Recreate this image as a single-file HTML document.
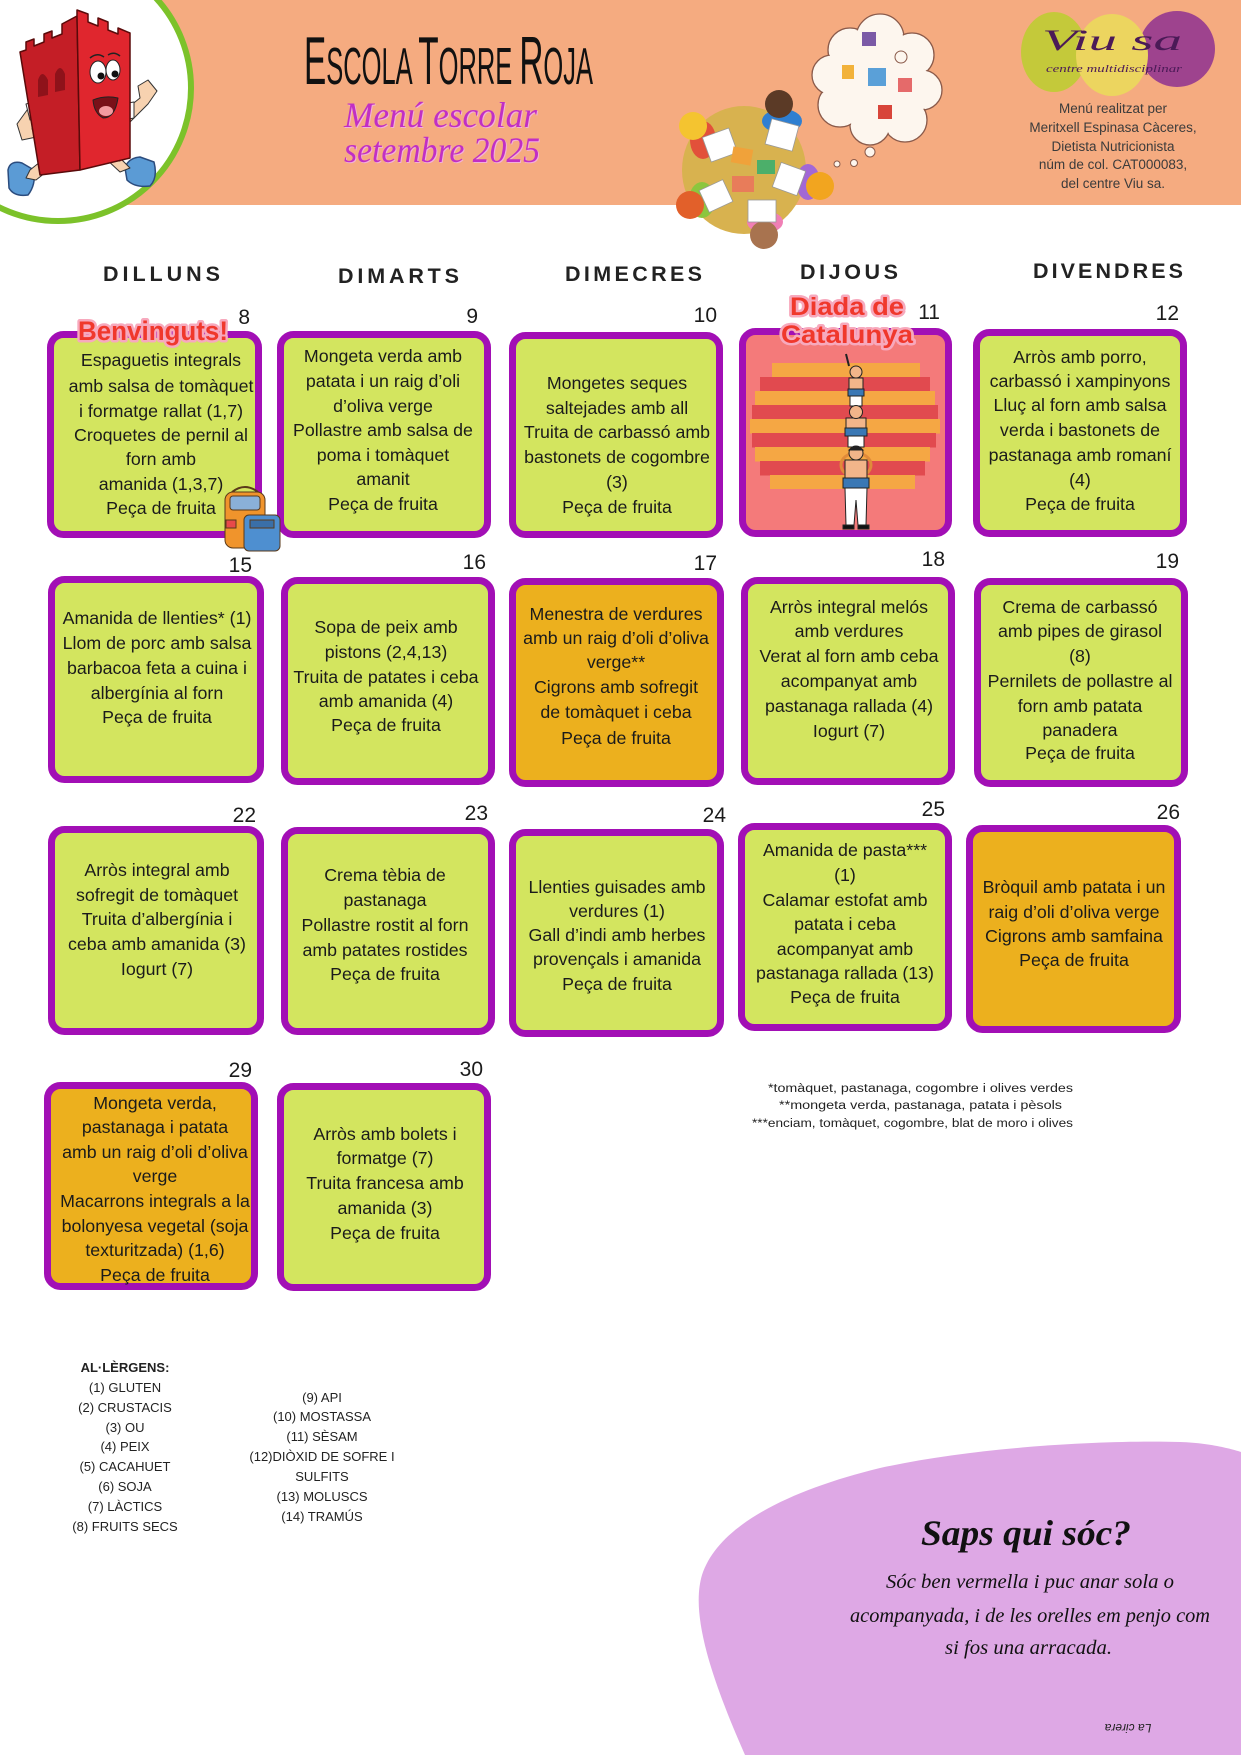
<!DOCTYPE html>
<html><head><meta charset="utf-8">
<style>
html,body{margin:0;padding:0;background:#fff;}
body{width:1241px;height:1755px;overflow:hidden;}
svg{display:block;}
.t{font-family:"Liberation Sans",sans-serif;font-size:17.8px;fill:#1b1b1b;text-anchor:middle;}
.n{font-family:"Liberation Sans",sans-serif;font-size:21px;fill:#1b1b1b;text-anchor:end;}
.h{font-family:"Liberation Sans",sans-serif;font-size:21.5px;font-weight:bold;fill:#222;}
.a{font-family:"Liberation Sans",sans-serif;font-size:13px;fill:#222;text-anchor:middle;}
.r{font-family:"Liberation Sans",sans-serif;font-size:13.5px;fill:#3b3b3b;text-anchor:middle;}
.f{font-family:"Liberation Sans",sans-serif;font-size:11.5px;fill:#222;text-anchor:middle;}
</style></head>
<body>
<svg width="1241" height="1755" viewBox="0 0 1241 1755" xmlns="http://www.w3.org/2000/svg">
<!-- header -->
<rect x="0" y="0" width="1241" height="205" fill="#f5ab80"/>
<circle cx="58" cy="88" r="133" fill="#fff" stroke="#7cc22a" stroke-width="6"/>

<!-- tower mascot -->
<g stroke-linejoin="round">
 <path d="M8,170 Q10,160 22,163 L34,170 Q36,185 28,195 Q14,197 9,188 Z" fill="#5b9bd5" stroke="#2b4c7e" stroke-width="1.5"/>
 <path d="M125,168 Q128,158 140,157 L154,162 Q158,178 150,186 Q135,188 127,180 Z" fill="#5b9bd5" stroke="#2b4c7e" stroke-width="1.5"/>
 <path d="M45,158 L30,170 L26,178 L36,180 L55,165 Z" fill="#f7d2b0" stroke="#333" stroke-width="1"/>
 <path d="M105,158 L120,172 L130,168 L115,153 Z" fill="#f7d2b0" stroke="#333" stroke-width="1"/>
 <rect x="40" y="146" width="22" height="18" fill="#fff" stroke="#333"/>
 <rect x="100" y="143" width="20" height="18" fill="#fff" stroke="#333"/>
 <path d="M30,106 L17,124 L22,140 L46,135 L41,127 L32,129 L38,114 Z" fill="#f7d2b0" stroke="#333"/>
 <path d="M26,104 L40,100 L42,118 L30,120 Z" fill="#fff" stroke="#333"/>
 <path d="M125,110 L140,98 L138,86 L148,80 L157,91 L148,104 L130,122 Z" fill="#f7d2b0" stroke="#333"/>
 <path d="M122,104 L134,102 L134,118 L124,120 Z" fill="#fff" stroke="#333"/>
 <path d="M20,52 L26,50 L26,42 L34,39 L34,46 L44,42 L44,34 L52,31 L52,38 L62,34 L62,24 L77,16 L80,170 L40,175 Z" fill="#c41e26" stroke="#5a0a0a" stroke-width="1.5"/>
 <path d="M77,16 L77,10 L88,14 L88,22 L98,26 L98,18 L108,22 L108,30 L118,34 L118,28 L130,33 L130,158 L80,170 Z" fill="#e0262e" stroke="#5a0a0a" stroke-width="1.5"/>
 <path d="M38,97 L38,80 Q42,68 48,80 L48,95 Z" fill="#8e121a"/>
 <path d="M55,92 L55,74 Q60,62 65,74 L65,90 Z" fill="#8e121a"/>
 <ellipse cx="98" cy="72" rx="8" ry="11" fill="#fff" stroke="#222"/>
 <ellipse cx="113" cy="70" rx="7" ry="10" fill="#fff" stroke="#222"/>
 <circle cx="101" cy="76" r="3.5" fill="#111"/>
 <circle cx="115" cy="74" r="3.5" fill="#111"/>
 <path d="M90,58 Q97,52 104,57 M108,55 Q114,51 120,56" stroke="#222" stroke-width="1.5" fill="none"/>
 <path d="M93,100 Q105,95 118,98 Q115,118 103,118 Q94,113 93,100 Z" fill="#7a1018" stroke="#222"/>
 <ellipse cx="106" cy="111" rx="7" ry="5" fill="#f49aa0"/>
</g>

<!-- title -->
<text x="304" y="84" textLength="289" lengthAdjust="spacingAndGlyphs" font-family="Liberation Sans, sans-serif" fill="#111"><tspan font-size="68">E</tspan><tspan font-size="52">SCOLA </tspan><tspan font-size="68">T</tspan><tspan font-size="52">ORRE </tspan><tspan font-size="68">R</tspan><tspan font-size="52">OJA</tspan></text>
<text x="345" y="128" textLength="193" lengthAdjust="spacingAndGlyphs" font-family="Liberation Serif, serif" font-style="italic" font-size="36" fill="#f3b0d8">Menú escolar</text>
<text x="344" y="127" textLength="193" lengthAdjust="spacingAndGlyphs" font-family="Liberation Serif, serif" font-style="italic" font-size="36" fill="#c12fc4">Menú escolar</text>
<text x="345" y="163" textLength="196" lengthAdjust="spacingAndGlyphs" font-family="Liberation Serif, serif" font-style="italic" font-size="36" fill="#f3b0d8">setembre 2025</text>
<text x="344" y="162" textLength="196" lengthAdjust="spacingAndGlyphs" font-family="Liberation Serif, serif" font-style="italic" font-size="36" fill="#c12fc4">setembre 2025</text>

<!-- table illustration -->
<g>
 <ellipse cx="744" cy="170" rx="62" ry="64" fill="#d8b24f"/>
 <ellipse cx="782" cy="121" rx="20" ry="12" fill="#2f7fd1"/>
 <circle cx="779" cy="104" r="14" fill="#5b3a26"/>
 <ellipse cx="703" cy="140" rx="13" ry="19" fill="#e2503a"/>
 <circle cx="693" cy="126" r="14" fill="#f4c430"/>
 <ellipse cx="702" cy="200" rx="13" ry="18" fill="#8cc63e"/>
 <circle cx="690" cy="205" r="14" fill="#e2602a"/>
 <ellipse cx="808" cy="182" rx="12" ry="18" fill="#a268d6"/>
 <circle cx="820" cy="186" r="14" fill="#f2a51f"/>
 <ellipse cx="765" cy="222" rx="18" ry="11" fill="#f07fb5"/>
 <circle cx="764" cy="235" r="14" fill="#a8734f"/>
 <rect x="706" y="132" width="28" height="26" fill="#fff" stroke="#999" stroke-width="0.8" transform="rotate(-20 720 145)"/>
 <rect x="768" y="122" width="28" height="26" fill="#fff" stroke="#999" stroke-width="0.8" transform="rotate(15 782 135)"/>
 <rect x="703" y="184" width="26" height="24" fill="#fff" stroke="#999" stroke-width="0.8" transform="rotate(-25 716 196)"/>
 <rect x="776" y="166" width="26" height="26" fill="#fff" stroke="#999" stroke-width="0.8" transform="rotate(20 789 179)"/>
 <rect x="748" y="200" width="28" height="22" fill="#fff" stroke="#999" stroke-width="0.8"/>
 <rect x="732" y="148" width="20" height="16" fill="#f0a23a" transform="rotate(10 742 156)"/>
 <rect x="757" y="160" width="18" height="14" fill="#4caf6a"/>
 <rect x="732" y="176" width="22" height="16" fill="#e87c5a"/>
</g>

<!-- thought cloud -->
<g>
 <g fill="#fdf6ee" stroke="#8a5a4a" stroke-width="1.3">
  <circle cx="850" cy="50" r="22"/><circle cx="880" cy="38" r="24"/><circle cx="912" cy="55" r="22"/>
  <circle cx="922" cy="90" r="20"/><circle cx="905" cy="120" r="22"/><circle cx="870" cy="125" r="20"/>
  <circle cx="840" cy="105" r="22"/><circle cx="832" cy="75" r="20"/>
 </g>
 <g fill="#fdf6ee">
  <circle cx="850" cy="50" r="21"/><circle cx="880" cy="38" r="23"/><circle cx="912" cy="55" r="21"/>
  <circle cx="922" cy="90" r="19"/><circle cx="905" cy="120" r="21"/><circle cx="870" cy="125" r="19"/>
  <circle cx="840" cy="105" r="21"/><circle cx="832" cy="75" r="19"/><circle cx="878" cy="82" r="42"/>
 </g>
 <rect x="862" y="32" width="14" height="14" fill="#7b5aa6"/>
 <rect x="842" y="65" width="12" height="14" fill="#f2b23a"/>
 <rect x="868" y="68" width="18" height="18" fill="#5aa0d8"/>
 <rect x="898" y="78" width="14" height="14" fill="#e56a6a"/>
 <rect x="878" y="105" width="14" height="14" fill="#d8453a"/>
 <circle cx="901" cy="57" r="6" fill="none" stroke="#8a5a4a"/>
 <circle cx="870" cy="152" r="5" fill="#fdf6ee" stroke="#8a5a4a" stroke-width="1"/>
 <circle cx="854" cy="163" r="3.5" fill="#fdf6ee" stroke="#8a5a4a" stroke-width="1"/>
 <circle cx="837" cy="164" r="3" fill="#fdf6ee" stroke="#8a5a4a" stroke-width="1"/>
</g>

<!-- Viu sa logo -->
<ellipse cx="1054" cy="52" rx="33" ry="40" fill="#c4c93a"/>
<ellipse cx="1177" cy="49" rx="38" ry="38" fill="#9e438e"/>
<ellipse cx="1112" cy="55" rx="36" ry="41" fill="#ecd55f"/>
<text x="1042" y="50" textLength="140" lengthAdjust="spacingAndGlyphs" font-family="Liberation Serif, serif" font-style="italic" font-size="30" fill="#4b1a57">Viu  sa</text>
<text x="1046" y="72" textLength="136" lengthAdjust="spacingAndGlyphs" font-family="Liberation Serif, serif" font-style="italic" font-size="11" fill="#4b1a57">centre multidisciplinar</text>
<text class="r" x="1113" y="113">Menú realitzat per</text>
<text class="r" x="1113" y="132">Meritxell Espinasa Càceres,</text>
<text class="r" x="1113" y="151">Dietista Nutricionista</text>
<text class="r" x="1113" y="169">núm de col. CAT000083,</text>
<text class="r" x="1113" y="188">del centre Viu sa.</text>

<!-- weekday headers -->
<text class="h" x="103" y="281" textLength="117" lengthAdjust="spacing">DILLUNS</text>
<text class="h" x="338" y="283" textLength="121" lengthAdjust="spacing">DIMARTS</text>
<text class="h" x="565" y="281" textLength="137" lengthAdjust="spacing">DIMECRES</text>
<text class="h" x="800" y="279" textLength="98" lengthAdjust="spacing">DIJOUS</text>
<text class="h" x="1033" y="278" textLength="150" lengthAdjust="spacing">DIVENDRES</text>

<!-- cards -->
<g stroke="#a20fb5" stroke-width="7">
 <rect x="50.5" y="334.5" width="208" height="200" rx="13" fill="#d3e55f"/>
 <rect x="280.5" y="334.5" width="207" height="200" rx="13" fill="#d3e55f"/>
 <rect x="512.5" y="335.5" width="207" height="199" rx="13" fill="#d3e55f"/>
 <rect x="742.5" y="331.5" width="206" height="202" rx="13" fill="#f47a7a"/>
 <rect x="976.5" y="332.5" width="207" height="201" rx="13" fill="#d3e55f"/>
 <rect x="51.5" y="579.5" width="209" height="200" rx="13" fill="#d3e55f"/>
 <rect x="284.5" y="580.5" width="207" height="201" rx="13" fill="#d3e55f"/>
 <rect x="512.5" y="581.5" width="208" height="202" rx="13" fill="#ecb01e"/>
 <rect x="744.5" y="580.5" width="207" height="201" rx="13" fill="#d3e55f"/>
 <rect x="977.5" y="581.5" width="207" height="202" rx="13" fill="#d3e55f"/>
 <rect x="51.5" y="829.5" width="209" height="202" rx="13" fill="#d3e55f"/>
 <rect x="284.5" y="830.5" width="207" height="201" rx="13" fill="#d3e55f"/>
 <rect x="512.5" y="832.5" width="208" height="201" rx="13" fill="#d3e55f"/>
 <rect x="741.5" y="826.5" width="207" height="201" rx="13" fill="#d3e55f"/>
 <rect x="969.5" y="828.5" width="208" height="201" rx="13" fill="#ecb01e"/>
 <rect x="47.5" y="1085.5" width="207" height="201" rx="13" fill="#ecb01e"/>
 <rect x="280.5" y="1086.5" width="207" height="201" rx="13" fill="#d3e55f"/>
</g>

<!-- day numbers -->
<text class="n" x="250" y="324">8</text>
<text class="n" x="478" y="323">9</text>
<text class="n" x="717" y="322">10</text>
<text class="n" x="940" y="319">11</text>
<text class="n" x="1179" y="320">12</text>
<text class="n" x="252" y="572">15</text>
<text class="n" x="486" y="569">16</text>
<text class="n" x="717" y="570">17</text>
<text class="n" x="945" y="566">18</text>
<text class="n" x="1179" y="568">19</text>
<text class="n" x="256" y="822">22</text>
<text class="n" x="488" y="820">23</text>
<text class="n" x="726" y="822">24</text>
<text class="n" x="945" y="816">25</text>
<text class="n" x="1180" y="819">26</text>
<text class="n" x="252" y="1077">29</text>
<text class="n" x="483" y="1076">30</text>

<!-- card 8 -->
<text class="t" x="161" y="366">Espaguetis integrals</text>
<text class="t" x="161" y="392">amb salsa de tomàquet</text>
<text class="t" x="161" y="417">i formatge rallat (1,7)</text>
<text class="t" x="161" y="441">Croquetes de pernil al</text>
<text class="t" x="161" y="465">forn amb</text>
<text class="t" x="161" y="490">amanida (1,3,7)</text>
<text class="t" x="161" y="514">Peça de fruita</text>
<!-- card 9 -->
<text class="t" x="383" y="362">Mongeta verda amb</text>
<text class="t" x="383" y="387">patata i un raig d’oli</text>
<text class="t" x="383" y="412">d’oliva verge</text>
<text class="t" x="383" y="436">Pollastre amb salsa de</text>
<text class="t" x="383" y="461">poma i tomàquet</text>
<text class="t" x="383" y="485">amanit</text>
<text class="t" x="383" y="510">Peça de fruita</text>
<!-- card 10 -->
<text class="t" x="617" y="389">Mongetes seques</text>
<text class="t" x="617" y="414">saltejades amb all</text>
<text class="t" x="617" y="438">Truita de carbassó amb</text>
<text class="t" x="617" y="463">bastonets de cogombre</text>
<text class="t" x="617" y="488">(3)</text>
<text class="t" x="617" y="513">Peça de fruita</text>
<!-- card 12 -->
<text class="t" x="1080" y="363">Arròs amb porro,</text>
<text class="t" x="1080" y="387">carbassó  i xampinyons</text>
<text class="t" x="1080" y="411">Lluç al forn amb salsa</text>
<text class="t" x="1080" y="436">verda i bastonets de</text>
<text class="t" x="1080" y="461">pastanaga amb romaní</text>
<text class="t" x="1080" y="486">(4)</text>
<text class="t" x="1080" y="510">Peça de fruita</text>
<!-- card 15 -->
<text class="t" x="157" y="624">Amanida de llenties* (1)</text>
<text class="t" x="157" y="649">Llom de porc amb salsa</text>
<text class="t" x="157" y="674">barbacoa feta a cuina i</text>
<text class="t" x="157" y="699">albergínia al forn</text>
<text class="t" x="157" y="723">Peça de fruita</text>
<!-- card 16 -->
<text class="t" x="386" y="633">Sopa de peix amb</text>
<text class="t" x="386" y="658">pistons (2,4,13)</text>
<text class="t" x="386" y="683">Truita de patates i ceba</text>
<text class="t" x="386" y="707">amb amanida (4)</text>
<text class="t" x="386" y="731">Peça de fruita</text>
<!-- card 17 -->
<text class="t" x="616" y="620">Menestra de verdures</text>
<text class="t" x="616" y="644">amb un raig d’oli d’oliva</text>
<text class="t" x="616" y="668">verge**</text>
<text class="t" x="616" y="693">Cigrons amb sofregit</text>
<text class="t" x="616" y="718">de tomàquet i ceba</text>
<text class="t" x="616" y="744">Peça de fruita</text>
<!-- card 18 -->
<text class="t" x="849" y="613">Arròs integral melós</text>
<text class="t" x="849" y="637">amb verdures</text>
<text class="t" x="849" y="662">Verat al forn amb  ceba</text>
<text class="t" x="849" y="687">acompanyat amb</text>
<text class="t" x="849" y="712">pastanaga rallada (4)</text>
<text class="t" x="849" y="737">Iogurt (7)</text>
<!-- card 19 -->
<text class="t" x="1080" y="613">Crema de carbassó</text>
<text class="t" x="1080" y="637">amb pipes de girasol</text>
<text class="t" x="1080" y="662">(8)</text>
<text class="t" x="1080" y="687">Pernilets de pollastre al</text>
<text class="t" x="1080" y="712">forn amb patata</text>
<text class="t" x="1080" y="736">panadera</text>
<text class="t" x="1080" y="759">Peça de fruita</text>
<!-- card 22 -->
<text class="t" x="157" y="876">Arròs integral amb</text>
<text class="t" x="157" y="901">sofregit de tomàquet</text>
<text class="t" x="157" y="925">Truita d’albergínia i</text>
<text class="t" x="157" y="950">ceba amb amanida (3)</text>
<text class="t" x="157" y="975">Iogurt (7)</text>
<!-- card 23 -->
<text class="t" x="385" y="881">Crema tèbia de</text>
<text class="t" x="385" y="906">pastanaga</text>
<text class="t" x="385" y="931">Pollastre rostit al forn</text>
<text class="t" x="385" y="956">amb patates rostides</text>
<text class="t" x="385" y="980">Peça de fruita</text>
<!-- card 24 -->
<text class="t" x="617" y="893">Llenties guisades amb</text>
<text class="t" x="617" y="917">verdures (1)</text>
<text class="t" x="617" y="941">Gall d’indi amb herbes</text>
<text class="t" x="617" y="965">provençals i amanida</text>
<text class="t" x="617" y="990">Peça de fruita</text>
<!-- card 25 -->
<text class="t" x="845" y="856">Amanida de pasta***</text>
<text class="t" x="845" y="881">(1)</text>
<text class="t" x="845" y="906">Calamar estofat amb</text>
<text class="t" x="845" y="930">patata i ceba</text>
<text class="t" x="845" y="955">acompanyat amb</text>
<text class="t" x="845" y="979">pastanaga rallada (13)</text>
<text class="t" x="845" y="1003">Peça de fruita</text>
<!-- card 26 -->
<text class="t" x="1074" y="893">Bròquil amb patata i un</text>
<text class="t" x="1074" y="918">raig d’oli d’oliva verge</text>
<text class="t" x="1074" y="942">Cigrons amb samfaina</text>
<text class="t" x="1074" y="966">Peça de fruita</text>
<!-- card 29 -->
<text class="t" x="155" y="1109">Mongeta verda,</text>
<text class="t" x="155" y="1133">pastanaga i patata</text>
<text class="t" x="155" y="1158">amb un raig d’oli d’oliva</text>
<text class="t" x="155" y="1182">verge</text>
<text class="t" x="155" y="1207">Macarrons integrals a la</text>
<text class="t" x="155" y="1232">bolonyesa vegetal (soja</text>
<text class="t" x="155" y="1256">texturitzada) (1,6)</text>
<text class="t" x="155" y="1281">Peça de fruita</text>
<!-- card 30 -->
<text class="t" x="385" y="1140">Arròs amb bolets i</text>
<text class="t" x="385" y="1164">formatge (7)</text>
<text class="t" x="385" y="1189">Truita francesa amb</text>
<text class="t" x="385" y="1214">amanida (3)</text>
<text class="t" x="385" y="1239">Peça de fruita</text>

<!-- card 11 flag + castellers -->
<g>
 <rect x="772" y="363" width="148" height="14.5" fill="#f5a744"/>
 <rect x="760" y="377" width="170" height="14.5" fill="#e14a4f"/>
 <rect x="755" y="391" width="180" height="14.5" fill="#f5a744"/>
 <rect x="752" y="405" width="186" height="14.5" fill="#e14a4f"/>
 <rect x="750" y="419" width="190" height="14.5" fill="#f5a744"/>
 <rect x="752" y="433" width="184" height="14.5" fill="#e14a4f"/>
 <rect x="755" y="447" width="175" height="14.5" fill="#f5a744"/>
 <rect x="760" y="461" width="165" height="14.5" fill="#e14a4f"/>
 <rect x="770" y="475" width="145" height="14" fill="#f5a744"/>
</g>
<g stroke="#222" stroke-width="1">
 <path d="M849,366 L846,354" fill="none" stroke-width="2"/>
 <rect x="849" y="378" width="14" height="12" fill="#f2b58a"/>
 <rect x="848" y="389" width="16" height="7" fill="#3a78b5"/>
 <rect x="850" y="396" width="12" height="10" fill="#fff"/>
 <circle cx="856" cy="372" r="6" fill="#f2b58a"/>
 <rect x="846" y="418" width="20" height="11" fill="#f2b58a"/>
 <rect x="845" y="428" width="22" height="8" fill="#3a78b5"/>
 <rect x="848" y="436" width="16" height="11" fill="#fff"/>
 <circle cx="856" cy="412" r="6.5" fill="#f2b58a"/>
 <ellipse cx="856" cy="465" rx="15" ry="12" fill="none" stroke="#e08a3a" stroke-width="3"/>
 <rect x="845" y="460" width="22" height="18" fill="#f2b58a"/>
 <rect x="843" y="478" width="26" height="10" fill="#3a78b5"/>
 <path d="M845,488 L867,488 L866,525 L858,525 L856,500 L854,525 L846,525 Z" fill="#fff"/>
 <rect x="843" y="525" width="11" height="4" fill="#111"/>
 <rect x="858" y="525" width="11" height="4" fill="#111"/>
 <circle cx="856" cy="453" r="7" fill="#f2b58a"/>
 <path d="M849,450 Q856,443 863,450 Z" fill="#222"/>
</g>

<!-- labels -->
<text x="78" y="340" textLength="150" lengthAdjust="spacingAndGlyphs" font-family="Liberation Sans, sans-serif" font-weight="bold" font-size="27" fill="#f0382c" stroke="#f7a9bd" stroke-width="5" paint-order="stroke" stroke-linejoin="round">Benvinguts!</text>
<text x="790" y="315" textLength="114" lengthAdjust="spacingAndGlyphs" font-family="Liberation Sans, sans-serif" font-weight="bold" font-size="25" fill="#f0382c" stroke="#f7a9bd" stroke-width="5" paint-order="stroke" stroke-linejoin="round">Diada de</text>
<text x="781" y="343" textLength="132" lengthAdjust="spacingAndGlyphs" font-family="Liberation Sans, sans-serif" font-weight="bold" font-size="25" fill="#f0382c" stroke="#f7a9bd" stroke-width="5" paint-order="stroke" stroke-linejoin="round">Catalunya</text>

<!-- backpack -->
<g stroke="#5a3a1a" stroke-width="1">
 <path d="M232,492 Q245,482 258,492" fill="none" stroke-width="2"/>
 <rect x="225" y="492" width="40" height="56" rx="8" fill="#f0942c"/>
 <rect x="230" y="496" width="30" height="14" rx="3" fill="#8ab0d8"/>
 <rect x="244" y="515" width="36" height="36" rx="5" fill="#4e8fd0"/>
 <rect x="250" y="520" width="24" height="8" fill="#3a6fa8"/>
 <rect x="226" y="520" width="10" height="8" fill="#e84a4a"/>
</g>

<!-- footnotes -->
<text class="f" x="920.5" y="1092" textLength="305" lengthAdjust="spacingAndGlyphs">*tomàquet, pastanaga, cogombre i olives verdes</text>
<text class="f" x="920.5" y="1109" textLength="283" lengthAdjust="spacingAndGlyphs">**mongeta verda, pastanaga, patata i pèsols</text>
<text class="f" x="912.5" y="1127" textLength="321" lengthAdjust="spacingAndGlyphs">***enciam, tomàquet, cogombre, blat de moro i olives</text>

<!-- allergens -->
<text class="a" x="125" y="1372" font-weight="bold" font-size="12.5">AL·LÈRGENS:</text>
<text class="a" x="125" y="1392">(1) GLUTEN</text>
<text class="a" x="125" y="1412">(2) CRUSTACIS</text>
<text class="a" x="125" y="1432">(3) OU</text>
<text class="a" x="125" y="1451">(4) PEIX</text>
<text class="a" x="125" y="1471">(5) CACAHUET</text>
<text class="a" x="125" y="1491">(6) SOJA</text>
<text class="a" x="125" y="1511">(7) LÀCTICS</text>
<text class="a" x="125" y="1531">(8) FRUITS SECS</text>
<text class="a" x="322" y="1402">(9) API</text>
<text class="a" x="322" y="1421">(10) MOSTASSA</text>
<text class="a" x="322" y="1441">(11) SÈSAM</text>
<text class="a" x="322" y="1461">(12)DIÒXID DE SOFRE I</text>
<text class="a" x="322" y="1481">SULFITS</text>
<text class="a" x="322" y="1501">(13) MOLUSCS</text>
<text class="a" x="322" y="1521">(14) TRAMÚS</text>

<!-- bottom blob -->
<path d="M745,1755 C712,1680 690,1615 702,1575 C718,1525 790,1490 880,1468 C980,1446 1110,1440 1180,1442 C1215,1443 1241,1452 1241,1452 L1241,1755 Z" fill="#dea8e5"/>
<text x="921" y="1545" textLength="210" lengthAdjust="spacingAndGlyphs" font-family="Liberation Serif, serif" font-weight="bold" font-style="italic" font-size="36" fill="#111">Saps qui sóc?</text>
<text x="886" y="1588" textLength="288" lengthAdjust="spacingAndGlyphs" font-family="Liberation Serif, serif" font-style="italic" font-size="20" fill="#111">Sóc ben vermella i puc anar sola o</text>
<text x="850" y="1622" textLength="360" lengthAdjust="spacingAndGlyphs" font-family="Liberation Serif, serif" font-style="italic" font-size="20" fill="#111">acompanyada, i de les orelles em penjo com</text>
<text x="945" y="1654" textLength="167" lengthAdjust="spacingAndGlyphs" font-family="Liberation Serif, serif" font-style="italic" font-size="20" fill="#111">si fos una arracada.</text>
<text x="1128" y="1732" text-anchor="middle" font-family="Liberation Sans, sans-serif" font-style="italic" font-size="12" fill="#222" transform="rotate(180 1128 1728)">La cirera</text>
</svg>
</body></html>
